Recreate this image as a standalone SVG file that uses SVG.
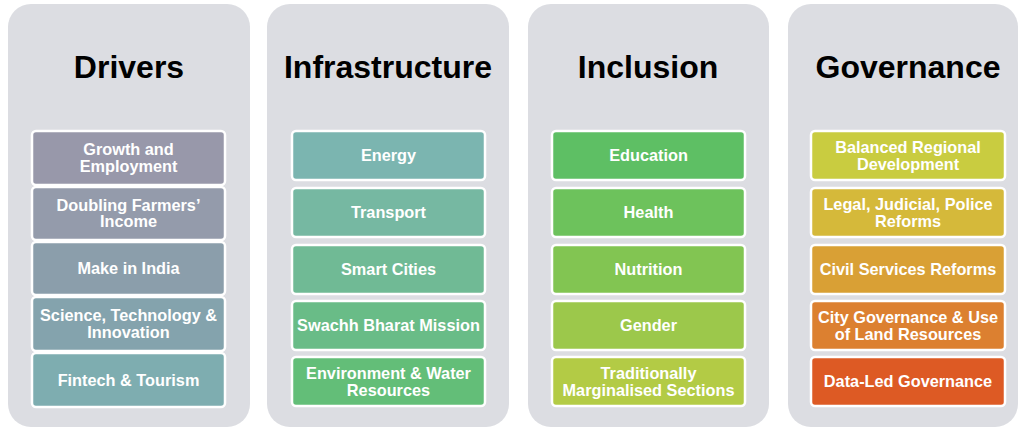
<svg xmlns="http://www.w3.org/2000/svg" width="1022" height="427" viewBox="0 0 1022 427">
<style>
.panel{fill:#dcdde2}
.title{font-family:"Liberation Sans",Arial,sans-serif;font-weight:bold;font-size:32px;fill:#000;text-anchor:middle}
.box{stroke:#ffffff;stroke-width:2.5}
.lbl{font-family:"Liberation Sans",Arial,sans-serif;font-weight:bold;font-size:16.3px;fill:#ffffff;text-anchor:middle}
</style>
<rect width="1022" height="427" fill="#ffffff"/>
<g id="panel-drivers">
<rect class="panel" x="8" y="4" width="242" height="423" rx="23"/>
<text class="title" x="129" y="78">Drivers</text>
</g>
<g id="panel-infrastructure">
<rect class="panel" x="267" y="4" width="242" height="423" rx="23"/>
<text class="title" x="388" y="78">Infrastructure</text>
</g>
<g id="panel-inclusion">
<rect class="panel" x="528" y="4" width="241" height="423" rx="23"/>
<text class="title" x="648" y="78">Inclusion</text>
</g>
<g id="panel-governance">
<rect class="panel" x="788" y="4" width="230" height="423" rx="23"/>
<text class="title" x="908" y="78">Governance</text>
</g>
<g id="connectors"/>
<!-- Drivers -->
<g id="growth">
<rect class="box" x="32" y="131" width="193" height="54" rx="4" fill="#9898aa"/>
<text class="lbl" x="128.5" y="155.4">Growth and</text>
<text class="lbl" x="128.5" y="172">Employment</text>
</g>
<g id="farmers">
<rect class="box" x="32" y="187" width="193" height="53" rx="4" fill="#949bab"/>
<text class="lbl" x="128.5" y="210.8">Doubling Farmers’</text>
<text class="lbl" x="128.5" y="227.4">Income</text>
</g>
<g id="make-in-india">
<rect class="box" x="32" y="242" width="193" height="53" rx="4" fill="#8b9eab"/>
<text class="lbl" x="128.5" y="274.3">Make in India</text>
</g>
<g id="science">
<rect class="box" x="32" y="297" width="193" height="54" rx="4" fill="#84a3ad"/>
<text class="lbl" x="128.5" y="321.4">Science, Technology &amp;</text>
<text class="lbl" x="128.5" y="338">Innovation</text>
</g>
<g id="fintech">
<rect class="box" x="32" y="353" width="193" height="54" rx="4" fill="#7eadb0"/>
<text class="lbl" x="128.5" y="385.8">Fintech &amp; Tourism</text>
</g>
<!-- Infrastructure -->
<g id="energy">
<rect class="box" x="292" y="131" width="193" height="49" rx="4" fill="#7bb5b0"/>
<text class="lbl" x="388.5" y="161.3">Energy</text>
</g>
<g id="transport">
<rect class="box" x="292" y="188" width="193" height="49" rx="4" fill="#76b8a2"/>
<text class="lbl" x="388.5" y="218.3">Transport</text>
</g>
<g id="smart-cities">
<rect class="box" x="292" y="245" width="193" height="49" rx="4" fill="#70ba95"/>
<text class="lbl" x="388.5" y="275.3">Smart Cities</text>
</g>
<g id="swachh">
<rect class="box" x="292" y="301" width="193" height="49" rx="4" fill="#69bc87"/>
<text class="lbl" x="388.5" y="331.3">Swachh Bharat Mission</text>
</g>
<g id="environment">
<rect class="box" x="292" y="357" width="193" height="49" rx="4" fill="#63be78"/>
<text class="lbl" x="388.5" y="379">Environment &amp; Water</text>
<text class="lbl" x="388.5" y="395.6">Resources</text>
</g>
<!-- Inclusion -->
<g id="education">
<rect class="box" x="552" y="131" width="193" height="49" rx="4" fill="#5ebf64"/>
<text class="lbl" x="648.5" y="161.3">Education</text>
</g>
<g id="health">
<rect class="box" x="552" y="188" width="193" height="49" rx="4" fill="#6dc25c"/>
<text class="lbl" x="648.5" y="218.3">Health</text>
</g>
<g id="nutrition">
<rect class="box" x="552" y="245" width="193" height="49" rx="4" fill="#82c552"/>
<text class="lbl" x="648.5" y="275.3">Nutrition</text>
</g>
<g id="gender">
<rect class="box" x="552" y="301" width="193" height="49" rx="4" fill="#9cc84b"/>
<text class="lbl" x="648.5" y="331.3">Gender</text>
</g>
<g id="marginalised">
<rect class="box" x="552" y="357" width="193" height="49" rx="4" fill="#b3cb45"/>
<text class="lbl" x="648.5" y="379">Traditionally</text>
<text class="lbl" x="648.5" y="395.6">Marginalised Sections</text>
</g>
<!-- Governance -->
<g id="balanced">
<rect class="box" x="811" y="131" width="194" height="49" rx="4" fill="#c9cc40"/>
<text class="lbl" x="908" y="153">Balanced Regional</text>
<text class="lbl" x="908" y="169.6">Development</text>
</g>
<g id="legal">
<rect class="box" x="811" y="188" width="194" height="49" rx="4" fill="#d5b93a"/>
<text class="lbl" x="908" y="210">Legal, Judicial, Police</text>
<text class="lbl" x="908" y="226.6">Reforms</text>
</g>
<g id="civil">
<rect class="box" x="811" y="245" width="194" height="49" rx="4" fill="#d9a035"/>
<text class="lbl" x="908" y="275.3">Civil Services Reforms</text>
</g>
<g id="city">
<rect class="box" x="811" y="301" width="194" height="49" rx="4" fill="#dc8030"/>
<text class="lbl" x="908" y="323">City Governance &amp; Use</text>
<text class="lbl" x="908" y="339.6">of Land Resources</text>
</g>
<g id="data-led">
<rect class="box" x="811" y="357" width="194" height="49" rx="4" fill="#dd5a24"/>
<text class="lbl" x="908" y="387.3">Data-Led Governance</text>
</g>
</svg>
